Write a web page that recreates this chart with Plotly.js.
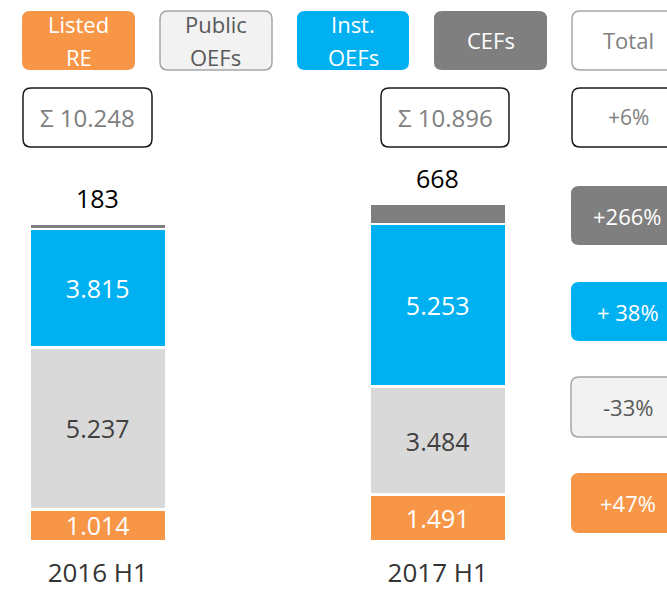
<!DOCTYPE html>
<html>
<head>
<meta charset="utf-8">
<script src="https://cdn.plot.ly/plotly-3.0.1.min.js"></script>
<style>
  html, body { margin: 0; padding: 0; background: #ffffff; }
  #chart { width: 667px; height: 590px; }
</style>
</head>
<body>
<div id="chart"></div>
<script>
// ---- data ----
const periods = ['2016 H1', '2017 H1'];
const listedRE = [1014, 1491];
const publicOEFs = [5237, 3484];
const instOEFs = [3815, 5253];
const cefs = [183, 668];
const totals = [10248, 10896];
const legendNames = [['Listed', 'RE'], ['Public', 'OEFs'], ['Inst.', 'OEFs'], ['CEFs'], ['Total']];
const changeLabels = { total: '+6%', cefs: '+266%', inst: '+ 38%', pub: '-33%', listed: '+47%' };

// ---- colours ----
const C_ORANGE = '#F79646', C_LIGHT = '#D9D9D9', C_BLUE = '#00B0F0', C_GREY = '#7F7F7F';
const FONT = 'Open Sans, Lato, sans-serif';

const W = 667, PH = 541; // plot height in px (top margin 0)
const X = p => p / W;
const Y = p => (PH - p) / PH;
function rrect(x0, y0, x1, y1, r) {
  return `M${X(x0 + r)},${Y(y0)} L${X(x1 - r)},${Y(y0)} Q${X(x1)},${Y(y0)} ${X(x1)},${Y(y0 + r)} ` +
         `L${X(x1)},${Y(y1 - r)} Q${X(x1)},${Y(y1)} ${X(x1 - r)},${Y(y1)} L${X(x0 + r)},${Y(y1)} ` +
         `Q${X(x0)},${Y(y1)} ${X(x0)},${Y(y1 - r)} L${X(x0)},${Y(y0 + r)} Q${X(x0)},${Y(y0)} ${X(x0 + r)},${Y(y0)} Z`;
}
function fmt(n) { return String(n).replace(/\B(?=(\d{3})+(?!\d))/g, '.'); }

const BW = 0.4015;
function barTrace(name, vals, color, txtColor, showText) {
  return {
    type: 'bar', name: name, x: periods, y: vals, width: BW,
    marker: { color: color, line: { color: '#ffffff', width: 2.6 } },
    text: showText ? vals.map(fmt) : undefined,
    textposition: showText ? 'inside' : 'none',
    insidetextanchor: 'middle',
    textfont: { family: FONT, size: 25, color: txtColor },
    hoverinfo: 'skip'
  };
}
const data = [
  barTrace('Listed RE', listedRE, C_ORANGE, '#ffffff', true),
  barTrace('Public OEFs', publicOEFs, C_LIGHT, '#404040', true),
  barTrace('Inst. OEFs', instOEFs, C_BLUE, '#ffffff', true),
  barTrace('CEFs', cefs, C_GREY, '#000000', false)
];

const shapes = [];
const annotations = [];
function box(x0, y0, x1, y1, fill, line, lw, lines, tcolor, size) {
  shapes.push({ type: 'path', xref: 'paper', yref: 'paper', path: rrect(x0, y0, x1, y1, 8),
    fillcolor: fill, line: { color: line, width: lw }, layer: 'above' });
  const cy = (y0 + y1) / 2, step = 33;
  lines.forEach((t, k) => {
    const yy = cy + (k - (lines.length - 1) / 2) * step;
    annotations.push({ xref: 'paper', yref: 'paper', x: X((x0 + x1) / 2), y: Y(yy),
      xanchor: 'center', yanchor: 'middle', showarrow: false, text: t,
      font: { family: FONT, size: size, color: tcolor } });
  });
}
// legend boxes
box(22, 11, 135, 70, C_ORANGE, C_ORANGE, 0, legendNames[0], '#ffffff', 22);
box(160, 11, 272, 70, '#F2F2F2', '#A6A6A6', 1.5, legendNames[1], '#595959', 22);
box(297, 11, 409, 70, C_BLUE, C_BLUE, 0, legendNames[2], '#ffffff', 22);
box(434, 11, 547, 70, C_GREY, C_GREY, 0, legendNames[3], '#ffffff', 22);
box(572, 11, 685, 70, '#ffffff', '#A6A6A6', 1.5, legendNames[4], '#7F7F7F', 22);
// totals
box(23, 88, 152, 147, '#ffffff', '#1a1a1a', 1.5, ['Σ ' + fmt(totals[0])], '#7F7F7F', 24);
box(381, 88, 509, 147, '#ffffff', '#1a1a1a', 1.5, ['Σ ' + fmt(totals[1])], '#7F7F7F', 24);
box(572, 88, 685, 147, '#ffffff', '#1a1a1a', 1.5, [changeLabels.total], '#7F7F7F', 21);
// change boxes
box(571, 186, 684, 245, C_GREY, C_GREY, 0, [changeLabels.cefs], '#ffffff', 22);
box(571, 282, 684, 341, C_BLUE, C_BLUE, 0, [changeLabels.inst], '#ffffff', 22);
box(571, 377, 684, 437, '#F2F2F2', '#A6A6A6', 1.5, [changeLabels.pub], '#595959', 22);
box(571, 473, 684, 533, C_ORANGE, C_ORANGE, 0, [changeLabels.listed], '#ffffff', 22);

// CEF labels above bars
periods.forEach((p, i) => {
  const top = listedRE[i] + publicOEFs[i] + instOEFs[i] + cefs[i];
  annotations.push({ x: p, y: top, xref: 'x', yref: 'y', yanchor: 'bottom', yshift: 6,
    showarrow: false, text: fmt(cefs[i]), font: { family: FONT, size: 25, color: '#000000' } });
});

const layout = {
  width: 667, height: 590,
  margin: { l: 0, r: 0, t: 0, b: 49, pad: 0 },
  paper_bgcolor: '#ffffff', plot_bgcolor: '#ffffff',
  barmode: 'stack', showlegend: false, separators: ',.',
  uniformtext: { mode: 'show', minsize: 25 },
  xaxis: {
    type: 'category', range: [-0.2875, 1.6743], showgrid: false, zeroline: false,
    showline: false, ticks: '', ticklabelstandoff: 14,
    tickfont: { family: FONT, size: 26, color: '#333333' }
  },
  yaxis: { visible: false, range: [0, 541 / 0.031], fixedrange: true },
  shapes: shapes, annotations: annotations, hovermode: false
};

Plotly.newPlot('chart', data, layout, { displayModeBar: false, staticPlot: true });
</script>
</body>
</html>
